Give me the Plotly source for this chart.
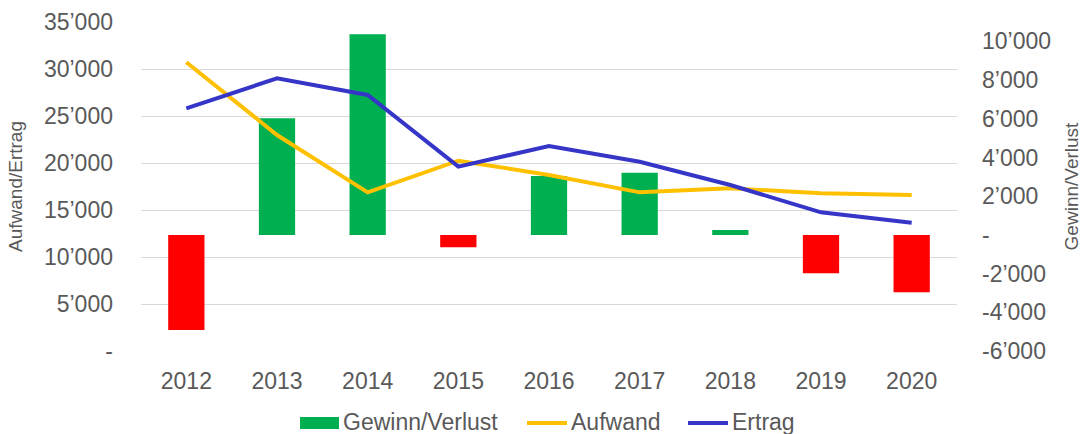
import plotly.graph_objects as go

years = ['2012', '2013', '2014', '2015', '2016', '2017', '2018', '2019', '2020']
gewinn_verlust = [-4915, 6026, 10367, -641, 3044, 3214, 253, -1985, -2967]
aufwand = [30713, 22979, 16879, 20245, 18723, 16879, 17305, 16773, 16596]
ertrag = [25816, 29007, 27234, 19610, 21809, 20138, 17660, 14755, 13649]

left_tickvals = [0, 5000, 10000, 15000, 20000, 25000, 30000, 35000]
left_ticktext = ['-', '5’000', '10’000', '15’000', '20’000', '25’000', '30’000', '35’000']
right_tickvals = [-6000, -4000, -2000, 0, 2000, 4000, 6000, 8000, 10000]
right_ticktext = ['-6’000', '-4’000', '-2’000', '-', '2’000', '4’000', '6’000', '8’000', '10’000']

legend_names = ['Gewinn/Verlust', 'Aufwand', 'Ertrag']

GREEN = '#00B050'
RED = '#FF0000'
YELLOW = '#FFC000'
BLUE = '#3535C8'
TXT = '#595959'
FONT = 'Liberation Sans, Arial, sans-serif'

W, H = 1087, 434
ML, MR, MT, MB = 141, 130, 22, 83
PW, PH = W - ML - MR, H - MT - MB


def px(x):
    return (x - ML) / PW


def py(y):
    return (H - MB - y) / PH


pos = [v if v >= 0 else None for v in gewinn_verlust]
neg = [v if v < 0 else None for v in gewinn_verlust]

fig = go.Figure()
fig.add_trace(go.Bar(x=years, y=pos, name=legend_names[0], marker=dict(color=GREEN, line=dict(width=0)),
                     width=0.4, yaxis='y'))
fig.add_trace(go.Bar(x=years, y=neg, name=legend_names[0], marker=dict(color=RED, line=dict(width=0)),
                     width=0.4, yaxis='y'))
fig.add_trace(go.Scatter(x=years, y=aufwand, name=legend_names[1], mode='lines',
                         line=dict(color=YELLOW, width=4), yaxis='y2'))
fig.add_trace(go.Scatter(x=years, y=ertrag, name=legend_names[2], mode='lines',
                         line=dict(color=BLUE, width=4), yaxis='y2'))

# manual legend (swatches + labels) below the plot
LY = 423
shapes = [
    dict(type='rect', xref='paper', yref='paper', x0=px(300), x1=px(339), y0=py(LY + 6), y1=py(LY - 6),
         fillcolor=GREEN, line=dict(width=0)),
    dict(type='line', xref='paper', yref='paper', x0=px(527), x1=px(567), y0=py(LY), y1=py(LY),
         line=dict(color=YELLOW, width=4)),
    dict(type='line', xref='paper', yref='paper', x0=px(688), x1=px(728), y0=py(LY), y1=py(LY),
         line=dict(color=BLUE, width=4)),
]
annotations = []
for name, xl in zip(legend_names, [341, 569, 730]):
    annotations.append(dict(text=name, xref='paper', yref='paper', x=px(xl), y=py(422),
                            xanchor='left', yanchor='middle', showarrow=False,
                            font=dict(size=23, color=TXT, family=FONT)))

fig.update_layout(
    width=W, height=H,
    margin=dict(l=ML, r=MR, t=MT, b=MB, autoexpand=False),
    paper_bgcolor='white', plot_bgcolor='white',
    font=dict(family=FONT, color=TXT, size=23),
    barmode='overlay',
    showlegend=False,
    shapes=shapes,
    annotations=annotations,
    xaxis=dict(type='category', showgrid=False, showline=False, ticks='',
               tickfont=dict(size=23, color=TXT), ticklabelstandoff=14),
    yaxis=dict(side='right', range=[-6000, 11000], tickvals=right_tickvals, ticktext=right_ticktext,
               showgrid=False, zeroline=False, showline=False, ticks='',
               tickfont=dict(size=23, color=TXT), ticklabelstandoff=24,
               title=dict(text='Gewinn/Verlust', font=dict(size=19, color=TXT), standoff=14)),
    yaxis2=dict(side='left', overlaying='y', range=[0, 35000], tickvals=left_tickvals, ticktext=left_ticktext,
                showgrid=True, gridcolor='#D9D9D9', gridwidth=1.3, zeroline=False, showline=False, ticks='',
                tickfont=dict(size=23, color=TXT), ticklabelstandoff=27,
                title=dict(text='Aufwand/Ertrag', font=dict(size=19, color=TXT), standoff=16)),
)

fig.write_html('out.html', config={'displayModeBar': False},
               post_script="document.body.style.margin='0';document.body.style.overflow='hidden';")
